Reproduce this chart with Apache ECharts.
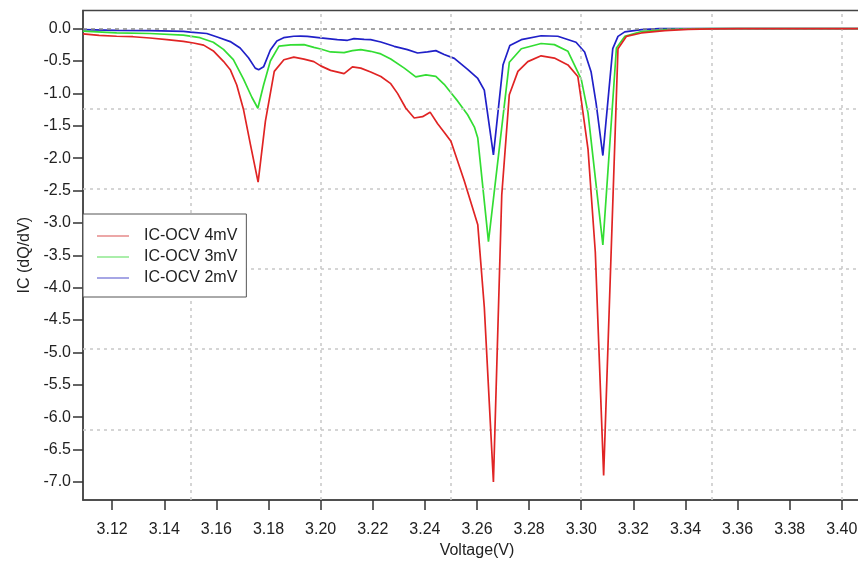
<!DOCTYPE html>
<html>
<head>
<meta charset="utf-8">
<script src="https://cdn.jsdelivr.net/npm/echarts@6/dist/echarts.min.js"></script>
<style>html,body{margin:0;padding:0;background:#fff}#c{width:858px;height:563px}</style>
</head>
<body>
<div id="c"></div>
<script>
// ---- data ----
const redV  = [3.1088,3.1150,3.1217,3.1280,3.1345,3.1410,3.1473,3.1512,3.1551,3.1590,3.1627,3.1654,3.1678,3.1704,3.1731,3.1760,3.1788,3.1822,3.1859,3.1897,3.1936,3.1974,3.2000,3.2038,3.2090,3.2122,3.2154,3.2192,3.2231,3.2269,3.2295,3.2327,3.2359,3.2391,3.2420,3.2449,3.2474,3.2500,3.2551,3.2603,3.2628,3.2663,3.2695,3.2724,3.2757,3.2795,3.2846,3.2897,3.2949,3.2987,3.3000,3.3026,3.3054,3.3086,3.3141,3.3173,3.3231,3.3321,3.3410,3.3500,3.3600,3.3800,3.4000,3.4112];
const redIC = [-0.08,-0.105,-0.118,-0.125,-0.145,-0.17,-0.196,-0.222,-0.255,-0.35,-0.505,-0.64,-0.87,-1.25,-1.80,-2.37,-1.43,-0.66,-0.48,-0.44,-0.47,-0.51,-0.575,-0.645,-0.696,-0.59,-0.61,-0.67,-0.74,-0.85,-1.00,-1.23,-1.38,-1.36,-1.29,-1.47,-1.60,-1.74,-2.35,-3.03,-4.30,-7.00,-2.57,-1.02,-0.66,-0.51,-0.42,-0.455,-0.56,-0.74,-1.10,-1.86,-3.45,-6.90,-0.31,-0.12,-0.067,-0.03,-0.012,-0.004,0,0,0,0];

const greenV  = [3.1088,3.1217,3.1345,3.1473,3.1537,3.1588,3.1627,3.1665,3.1704,3.1736,3.1759,3.1781,3.1807,3.1840,3.1885,3.1936,3.1974,3.2000,3.2038,3.2090,3.2122,3.2154,3.2192,3.2231,3.2269,3.2321,3.2365,3.2404,3.2442,3.2474,3.2500,3.2526,3.2564,3.2590,3.2603,3.2644,3.2724,3.2770,3.2846,3.2897,3.2949,3.3000,3.3026,3.3083,3.3135,3.3167,3.3231,3.3321,3.3410,3.3500,3.3800,3.4112];
const greenIC = [-0.04,-0.065,-0.075,-0.10,-0.14,-0.21,-0.32,-0.48,-0.78,-1.06,-1.23,-0.87,-0.50,-0.27,-0.25,-0.247,-0.29,-0.314,-0.36,-0.37,-0.34,-0.325,-0.35,-0.39,-0.47,-0.61,-0.745,-0.715,-0.737,-0.86,-0.99,-1.12,-1.33,-1.52,-1.69,-3.29,-0.52,-0.31,-0.23,-0.247,-0.35,-0.78,-1.30,-3.34,-0.30,-0.12,-0.045,-0.015,-0.005,0,0,0];

const blueV  = [3.1088,3.1217,3.1345,3.1473,3.1500,3.1563,3.1603,3.1653,3.1691,3.1723,3.1749,3.1762,3.1781,3.1807,3.1832,3.1858,3.1897,3.1923,3.1949,3.2000,3.2064,3.2103,3.2128,3.2167,3.2192,3.2231,3.2282,3.2333,3.2372,3.2410,3.2442,3.2474,3.2513,3.2564,3.2603,3.2628,3.2663,3.2700,3.2726,3.2770,3.2846,3.2910,3.2980,3.3013,3.3038,3.3057,3.3083,3.3121,3.3141,3.3167,3.3231,3.3300,3.3600,3.4112];
const blueIC = [-0.015,-0.026,-0.031,-0.041,-0.055,-0.075,-0.13,-0.20,-0.30,-0.45,-0.61,-0.634,-0.59,-0.33,-0.19,-0.14,-0.118,-0.115,-0.12,-0.144,-0.17,-0.18,-0.155,-0.165,-0.17,-0.206,-0.273,-0.325,-0.376,-0.36,-0.34,-0.40,-0.46,-0.63,-0.77,-0.95,-1.95,-0.557,-0.26,-0.17,-0.11,-0.118,-0.21,-0.36,-0.67,-1.15,-1.96,-0.31,-0.12,-0.05,-0.015,0,0,0];

const seriesNames = ['IC-OCV 4mV','IC-OCV 3mV','IC-OCV 2mV'];
const xTicks = [3.12,3.14,3.16,3.18,3.20,3.22,3.24,3.26,3.28,3.30,3.32,3.34,3.36,3.38,3.40];
const yTicks = [0,-0.5,-1,-1.5,-2,-2.5,-3,-3.5,-4,-4.5,-5,-5.5,-6,-6.5,-7];
const xGrid = [3.15,3.20,3.25,3.30,3.35,3.40];
const yGrid = [-1.238,-2.475,-3.713,-4.95,-6.188];
const zeroLine = [0];

const pair = (xs, ys) => xs.map((x, i) => [x, ys[i]]);
const FONT = '"Liberation Sans", Arial, Helvetica, sans-serif';
const TXT = '#222';

const chart = echarts.init(document.getElementById('c'), null, {renderer: 'canvas'});
chart.setOption({
  animation: false,
  backgroundColor: '#fff',
  textStyle: {fontFamily: FONT},
  grid: {left: 83, right: -13, top: 10.5, bottom: 63, show: true, borderColor: '#444', borderWidth: 1.5, backgroundColor: 'transparent', outerBoundsMode: 'none', containLabel: false},
  legend: {
    show: true,
    data: seriesNames,
    orient: 'vertical',
    left: 83, top: 214,
    padding: [14, 9, 11, 14],
    icon: 'rect',
    itemWidth: 32, itemHeight: 1.5, itemGap: 5,
    backgroundColor: '#fff',
    borderColor: '#555', borderWidth: 1,
    textStyle: {fontSize: 16, lineHeight: 16, color: TXT, fontFamily: FONT, padding: [0, 0, 0, 10]},
    selectedMode: false,
    z: 20
  },
  xAxis: {
    type: 'value', min: 3.1088, max: 3.4112,
    name: 'Voltage(V)', nameLocation: 'middle', nameGap: 41,
    nameTextStyle: {fontSize: 16, color: TXT, fontFamily: FONT},
    axisLine: {show: true, onZero: false, lineStyle: {color: '#444', width: 1.5}},
    axisTick: {show: true, customValues: xTicks, length: 10, inside: false, lineStyle: {color: '#333', width: 1.5}},
    axisLabel: {customValues: xTicks, formatter: v => v.toFixed(2), fontSize: 16, color: TXT, margin: 22, fontFamily: FONT},
    splitLine: {show: false}
  },
  yAxis: {
    type: 'value', min: -7.28, max: 0.28,
    name: 'IC (dQ/dV)', nameLocation: 'middle', nameGap: 50, nameRotate: 90,
    nameTextStyle: {fontSize: 16, color: TXT, fontFamily: FONT},
    axisLine: {show: true, onZero: false, lineStyle: {color: '#444', width: 1.5}},
    axisTick: {show: true, customValues: yTicks, length: 10, inside: false, lineStyle: {color: '#333', width: 1.5}},
    axisLabel: {customValues: yTicks, formatter: v => v.toFixed(1), fontSize: 16, color: TXT, margin: 12, fontFamily: FONT},
    splitLine: {show: false}
  },
  series: [
    {
      name: 'grid', type: 'line', data: [], z: 1, silent: true,
      markLine: {
        silent: true, symbol: 'none', label: {show: false}, animation: false,
        lineStyle: {color: '#c8c8c8', type: [3, 4], width: 1.5},
        data: xGrid.map(v => ({xAxis: v})).concat(yGrid.map(v => ({yAxis: v})))
      }
    },
    {name: seriesNames[2], type: 'line', data: pair(blueV, blueIC), showSymbol: false, symbol: 'none', z: 3,
     lineStyle: {color: '#2020c8', width: 1.7}, itemStyle: {color: '#8888dc'}},
    {name: seriesNames[1], type: 'line', data: pair(greenV, greenIC), showSymbol: false, symbol: 'none', z: 4,
     lineStyle: {color: '#33dd33', width: 1.7}, itemStyle: {color: '#8ee88e'}},
    {name: seriesNames[0], type: 'line', data: pair(redV, redIC), showSymbol: false, symbol: 'none', z: 5,
     lineStyle: {color: '#e02424', width: 1.7}, itemStyle: {color: '#e68a8a'}},
    {
      name: 'zero', type: 'line', data: [], z: 8, silent: true,
      markLine: {
        silent: true, symbol: 'none', label: {show: false}, animation: false,
        lineStyle: {color: '#8a8a8a', type: [4, 4], width: 1.5},
        data: zeroLine.map(v => ({yAxis: v}))
      }
    }
  ]
});
</script>
</body>
</html>
